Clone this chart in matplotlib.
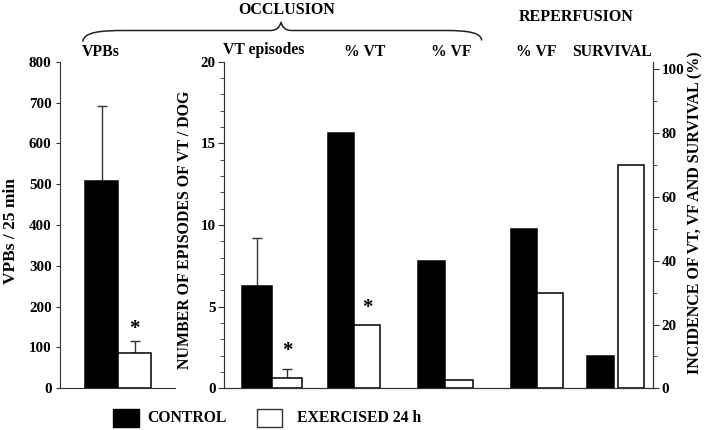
import matplotlib
matplotlib.use("Agg")
import matplotlib.pyplot as plt
from matplotlib.path import Path
from matplotlib.patches import PathPatch, Rectangle
from matplotlib.ticker import MultipleLocator

plt.rcParams['font.family'] = ['Liberation Serif', 'DejaVu Serif']
plt.rcParams['font.weight'] = 'bold'

# ---------------- data ----------------
vpb_groups = ["CONTROL", "EXERCISED 24 h"]
vpb_values = [508, 87]
vpb_err = [183, 30]

vt_episodes_values = [6.25, 0.62]
vt_episodes_err = [2.95, 0.57]

pct_categories = ["% VT", "% VF", "% VF", "SURVIVAL"]
pct_control = [80, 40, 50, 10]
pct_exercised = [20, 2.5, 30, 70]

col_titles = ["VPBs", "VT episodes", "% VT", "% VF", "% VF", "SURVIVAL"]
significant_vpb = [False, True]
significant_vt = [False, True]
significant_pct_ex = [True, False, False, False]

W, H = 704, 430
fig = plt.figure(figsize=(W / 100, H / 100), dpi=100)


def fx(x):
    return x / W


def fy(y):
    return 1 - y / H


ax_top, ax_bot = 61.7, 388.3
# ---------------- left axes (VPBs) ----------------
axL = fig.add_axes([fx(60), fy(ax_bot), (175 - 60) / W, (ax_bot - ax_top) / H])
axL.set_xlim(-1.258, 2.227)
axL.set_ylim(0, 800)
xL = [0, 1]
axL.bar(xL, vpb_values, width=1.0, color=['black', 'white'], edgecolor='black',
        linewidth=1.1, zorder=2)
for xi, v, e in zip(xL, vpb_values, vpb_err):
    axL.errorbar(xi, v, yerr=[[0], [e]], fmt='none', ecolor='#333333',
                 elinewidth=1.0, capsize=3.5, capthick=1.0, zorder=1)
for xi, v, e, s in zip(xL, vpb_values, vpb_err, significant_vpb):
    if s:
        axL.annotate('*', (xi, v + e), xytext=(0, 1), textcoords='offset points',
                     ha='center', va='bottom', fontsize=15, fontweight='bold')
axL.set_yticks(range(0, 801, 100))
axL.set_xticks([])
for sp in ['top', 'right']:
    axL.spines[sp].set_visible(False)
axL.spines['left'].set_color('#333333')
axL.spines['bottom'].set_color('#333333')
axL.tick_params(axis='y', direction='out', length=3, labelsize=10.8, pad=3,
                color='#333333')
for lab in axL.get_yticklabels():
    lab.set_fontweight('bold')

# ---------------- middle axes ----------------
mid_left, mid_right = 224, 653.3
axM = fig.add_axes([fx(mid_left), fy(ax_bot), (mid_right - mid_left) / W,
                    (ax_bot - ax_top) / H])
axM.set_xlim(0, mid_right - mid_left)
axM.set_ylim(0, 20)
axR = axM.twinx()
axR.set_ylim(0, 100 * (ax_bot - ax_top) / (ax_bot - 69.3))
axR.set_xlim(0, mid_right - mid_left)

vt_left = [18.3, 48.3]
vt_width = [30, 29.4]
ctrl_left = [103.7, 194.3, 286.7, 363.3]
ctrl_width = [26.3, 26.7, 26.3, 26.4]
ex_left = [130.0, 221.0, 313.0, 393.7]
ex_width = [26.3, 28.3, 26.3, 26.3]

axM.bar(vt_left, vt_episodes_values, width=vt_width, align='edge',
        color=['black', 'white'], edgecolor='black', linewidth=1.1, zorder=2)
for l, w, v, e in zip(vt_left, vt_width, vt_episodes_values, vt_episodes_err):
    axM.errorbar(l + w / 2, v, yerr=[[0], [e]], fmt='none', ecolor='#333333',
                 elinewidth=1.0, capsize=3.5, capthick=1.0, zorder=1)
for l, w, v, e, s in zip(vt_left, vt_width, vt_episodes_values, vt_episodes_err,
                         significant_vt):
    if s:
        axM.annotate('*', (l + w / 2, v + e), xytext=(0, 6), textcoords='offset points',
                     ha='center', va='bottom', fontsize=15, fontweight='bold')

axR.bar(ctrl_left, pct_control, width=ctrl_width, align='edge', color='black',
        edgecolor='black', linewidth=1.1, zorder=2)
axR.bar(ex_left, pct_exercised, width=ex_width, align='edge', color='white',
        edgecolor='black', linewidth=1.1, zorder=2)
for l, w, v, s in zip(ex_left, ex_width, pct_exercised, significant_pct_ex):
    if s:
        axR.annotate('*', (l + w / 2, v), xytext=(0, 5), textcoords='offset points',
                     ha='center', va='bottom', fontsize=15, fontweight='bold')

axM.set_xticks([])
axM.yaxis.set_major_locator(MultipleLocator(5))
axM.yaxis.set_minor_locator(MultipleLocator(1))
axR.yaxis.set_minor_locator(MultipleLocator(10))
axR.set_yticks(range(0, 101, 20))
for a in (axM, axR):
    a.spines['top'].set_visible(False)
    for sp in ['left', 'right', 'bottom']:
        a.spines[sp].set_color('#333333')
    a.tick_params(axis='y', which='major', direction='out', length=4,
                  labelsize=10.8, pad=2, color='#333333')
    a.tick_params(axis='y', which='minor', direction='out', length=3,
                  color='#333333')
    for lab in a.get_yticklabels():
        lab.set_fontweight('bold')

# ---------------- axis labels ----------------
fig.text(fx(11), fy(178), "VPBs / 25 min", rotation=90, ha='center', va='top',
         fontsize=12.5, fontweight='bold')
fig.text(fx(185), fy(230), "NUMBER OF EPISODES OF VT / DOG", rotation=90,
         ha='center', va='center', fontsize=11.4, fontweight='bold')
fig.text(fx(695), fy(213), "INCIDENCE OF VT, VF AND SURVIVAL (%)", rotation=90,
         ha='center', va='center', fontsize=11.5, fontweight='bold')

# ---------------- column titles ----------------
title_x = [100.5, 264, 365, 451, 536, 612.5]
title_y = [51.7, 50.5, 51.5, 51.5, 52.5, 51.7]
for t, x, y in zip(col_titles, title_x, title_y):
    fig.text(fx(x), fy(y), t, ha='center', va='center', fontsize=11.3,
             fontweight='bold')
fig.text(fx(286.5), fy(10.5), "OCCLUSION", ha='center', va='center', fontsize=11.5,
         fontweight='bold')
fig.text(fx(575.8), fy(16.7), "REPERFUSION", ha='center', va='center', fontsize=11.5,
         fontweight='bold')

# ---------------- brace ----------------
pts = [(82.7, 41.7), (84, 32), (100, 30.5), (125, 30.5),
       (270, 30.5),
       (278, 30.5), (280, 26), (281, 22),
       (282, 26), (284, 30.5), (292, 30.5),
       (445, 30.5),
       (470, 30.5), (481, 33), (481.7, 40.5)]
codes = [Path.MOVETO, Path.CURVE4, Path.CURVE4, Path.CURVE4,
         Path.LINETO,
         Path.CURVE4, Path.CURVE4, Path.CURVE4,
         Path.CURVE4, Path.CURVE4, Path.CURVE4,
         Path.LINETO,
         Path.CURVE4, Path.CURVE4, Path.CURVE4]
path = Path([(fx(x), fy(y)) for x, y in pts], codes)
fig.add_artist(PathPatch(path, transform=fig.transFigure, facecolor='none',
                         edgecolor='#222222', linewidth=1.1))

# ---------------- legend ----------------
fig.add_artist(Rectangle((fx(113), fy(427)), 26 / W, 18 / H, transform=fig.transFigure,
                         facecolor='black', edgecolor='black', linewidth=1.0))
fig.text(fx(147), fy(418), vpb_groups[0], ha='left', va='center', fontsize=11.3,
         fontweight='bold')
fig.add_artist(Rectangle((fx(257), fy(427)), 25 / W, 18 / H, transform=fig.transFigure,
                         facecolor='white', edgecolor='#333333', linewidth=1.0))
fig.text(fx(297), fy(418), vpb_groups[1], ha='left', va='center', fontsize=11.3,
         fontweight='bold')

fig.savefig("out.png", dpi=100)
